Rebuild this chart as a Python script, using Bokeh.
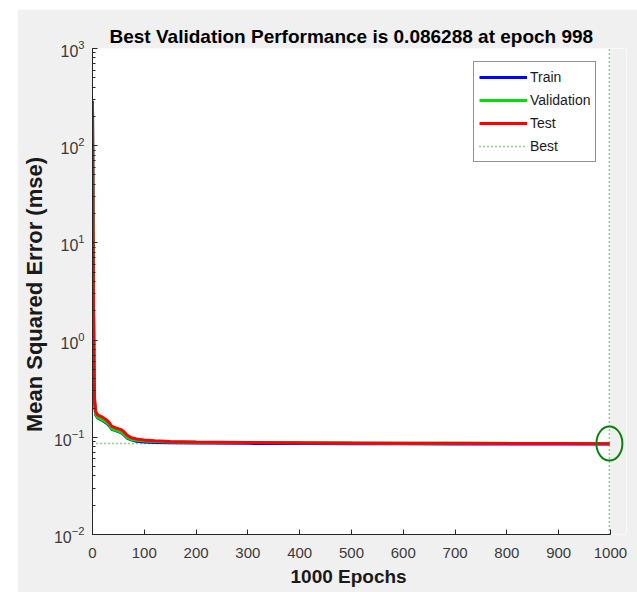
from bokeh.plotting import figure
from bokeh.models import Legend, LegendItem, FixedTicker, BoxAnnotation, Title
from bokeh.embed import file_html
from bokeh.resources import INLINE

# ---- data ----
epochs = [0, 1, 2, 3, 4, 6, 10, 20, 28, 33, 37, 45, 55, 60, 67, 75, 85, 100,
          120, 150, 200, 300, 400, 500, 600, 700, 800, 900, 998]
train = [275, 18, 1.9, 0.46, 0.23, 0.172, 0.158, 0.148, 0.139, 0.13, 0.121, 0.117,
         0.112, 0.107, 0.098, 0.094, 0.091, 0.0895, 0.0885, 0.0878, 0.0872, 0.0866,
         0.0862, 0.0859, 0.0857, 0.0855, 0.0853, 0.0852, 0.0851]
validation = [285, 20, 2.0, 0.48, 0.24, 0.175, 0.16, 0.15, 0.141, 0.132, 0.122, 0.118,
              0.113, 0.108, 0.099, 0.095, 0.093, 0.0915, 0.0905, 0.0897, 0.0890, 0.0883,
              0.0878, 0.0874, 0.0871, 0.0868, 0.0866, 0.0864, 0.086288]
test = [290, 21, 2.1, 0.5, 0.25, 0.185, 0.17, 0.16, 0.15, 0.14, 0.13, 0.125,
        0.12, 0.115, 0.105, 0.099, 0.096, 0.094, 0.092, 0.0905, 0.0895, 0.0885,
        0.088, 0.0875, 0.087, 0.0867, 0.0864, 0.0861, 0.0858]
best_epoch = 998
best_value = 0.086288
n_epochs = 1000
x_ticks = list(range(0, 1001, 100))

TITLE = "Best Validation Performance is 0.086288 at epoch 998"
FONT = "Liberation Sans"

# the frame runs a little past epoch 1000 so that the best-point ring is not cut;
# the part beyond 1000 is painted like the figure background
X_END = 1031

p = figure(width=620, height=583, y_axis_type="log",
           x_range=(0, X_END), y_range=(1e-2, 1e3),
           output_backend="svg", toolbar_location=None,
           margin=(9, 0, 0, 17),
           min_border_left=75, min_border_right=11,
           min_border_top=39, min_border_bottom=58)

p.background_fill_color = "white"
p.border_fill_color = "#f0f0f0"
p.outline_line_color = None
p.grid.visible = False

p.title.text = TITLE
p.title.align = "left"
p.title.offset = 17
p.title.text_font = FONT
p.title.text_font_size = "19px"
p.title.text_font_style = "bold"
p.title.text_color = "#000000"
p.title.standoff = 4

p.add_layout(BoxAnnotation(left=n_epochs, fill_color="#f0f0f0", fill_alpha=1,
                           line_color=None, level="underlay"))

for ax in (p.xaxis, p.yaxis):
    ax.axis_line_color = "#262626"
    ax.major_tick_line_color = "#262626"
    ax.minor_tick_line_color = "#262626"
    ax.major_tick_in = 5
    ax.major_tick_out = 0
    ax.minor_tick_in = 3
    ax.minor_tick_out = 0
    ax.major_label_text_font = FONT
    ax.major_label_text_font_size = "15px"
    ax.major_label_text_color = "#3a3a3a"
    ax.axis_label_text_font = FONT
    ax.axis_label_text_font_style = "bold"
    ax.axis_label_text_color = "#1a1a1a"

p.xaxis.bounds = (0, n_epochs)
p.xaxis.ticker = FixedTicker(ticks=x_ticks)
p.xaxis.minor_tick_line_color = None
p.xaxis.major_label_standoff = 13

xlabel = Title(text="1000 Epochs", align="left", offset=198,
               text_font=FONT, text_font_size="19px", text_font_style="bold",
               text_color="#1a1a1a", standoff=7)
p.add_layout(xlabel, "below")

p.yaxis.major_label_text_font_size = "16px"
p.yaxis.major_label_standoff = 8
p.yaxis.axis_label = "Mean Squared Error  (mse)"
p.yaxis.axis_label_text_font_size = "22px"
p.yaxis.axis_label_standoff = 4

# best markers
hb = p.line([0, n_epochs], [best_value, best_value], line_color="#1f9e1f",
            line_width=1.5, line_dash="1 3")
p.line([best_epoch, best_epoch], [1e-2, 1e3], line_color="#1f9e1f",
       line_width=1.5, line_dash="1 3")

r_train = p.line(epochs, train, line_color="#0000ff", line_width=3)
r_val = p.line(epochs, validation, line_color="#00e000", line_width=3)
r_test = p.line(epochs, test, line_color="#ff0000", line_width=3)

p.ellipse(x=[best_epoch], y=[best_value], width=26, height=34,
          width_units="screen", height_units="screen",
          fill_color=None, line_color="#0a820a", line_width=2)

legend = Legend(items=[
    LegendItem(label="Train", renderers=[r_train]),
    LegendItem(label="Validation", renderers=[r_val]),
    LegendItem(label="Test", renderers=[r_test]),
    LegendItem(label="Best", renderers=[hb]),
], location=(381, 372))
legend.margin = 0
legend.padding = 5
legend.spacing = 3
legend.glyph_width = 48
legend.glyph_height = 20
legend.label_height = 20
legend.label_standoff = 3
legend.label_text_font = FONT
legend.label_text_font_size = "14px"
legend.label_text_color = "#1a1a1a"
legend.border_line_color = "#262626"
legend.border_line_width = 1
legend.background_fill_color = "white"
legend.background_fill_alpha = 1
p.add_layout(legend)

open("out.html", "w").write(file_html(p, INLINE))
